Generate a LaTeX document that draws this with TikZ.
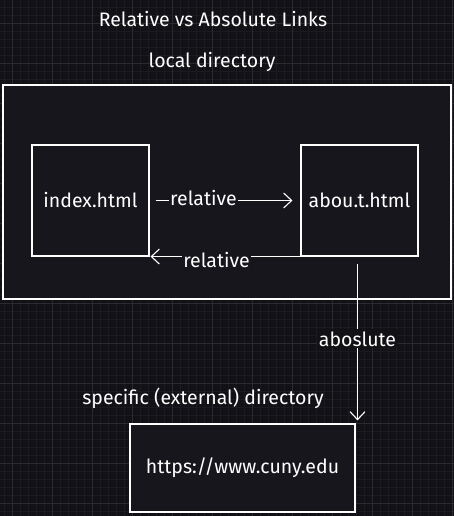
\documentclass[tikz,border=0pt]{standalone}
\usepackage{fontspec}
\setmainfont{Fira Sans}
\usetikzlibrary{arrows.meta,calc,positioning}
\definecolor{bgdark}{HTML}{121116}
\definecolor{boxfill}{HTML}{18161D}
\definecolor{gridminor}{HTML}{1B1A20}
\definecolor{gridmajor}{HTML}{2B2A30}
\tikzset{%
	sketch/.style = {draw=white, line width=1.1pt, fill=boxfill},
	page/.style   = {sketch, rectangle, minimum width=117pt, minimum height=111pt, text=white, font=\fontsize{19.5}{23}\selectfont},
	lbl/.style    = {text=white, font=\fontsize{19.5}{23}\selectfont},
	arrow/.style  = {draw=white, line width=1.1pt, -{Straight Barb[length=8pt,width=15pt]}},
}

\begin{document}
\begin{tikzpicture}[x=1pt,y=-1pt]
	\useasboundingbox (0,0) rectangle (454,516);
	\fill[bgdark] (0,0) rectangle (454,516);
	% grid
	\foreach \x in {4,12,...,452} \draw[gridminor,line width=0.5pt] (\x,0) -- (\x,516);
	\foreach \y in {7.3,15.3,...,516} \draw[gridminor,line width=0.5pt] (0,\y) -- (454,\y);
	\foreach \x in {12,52,...,452} \draw[gridmajor,line width=0.6pt] (\x,0) -- (\x,516);
	\foreach \y in {23.3,63.3,...,516} \draw[gridmajor,line width=0.6pt] (0,\y) -- (454,\y);
	% local directory
	\node[lbl] (title) at (213,19) {Relative vs Absolute Links};
	\node[lbl] (localtxt) at (212,62) {local directory};
	\node[sketch, minimum width=448pt, minimum height=214pt] (local) at (227,192) {};
	\node[page] (index) at (90.5,200.5) {index.html};
	\node[page] (about) at (359.5,200.5) {abou.t.html};
	\draw[arrow] ([xshift=6pt]index.east) -- ([xshift=-8pt]about.west)
		node[lbl, pos=0.35, fill=boxfill, inner sep=1pt, yshift=2pt] (reltop) {relative};
	\draw[arrow] (about.south west) -- ([xshift=1pt]index.south east)
		node[lbl, pos=0.56, fill=boxfill, inner sep=1pt, yshift=-3pt] (relbot) {relative};
	% external
	\node[lbl] (exttxt) at (203,398) {specific (external) directory};
	\node[page, minimum width=225pt, minimum height=88pt] (cuny) at (242.5,468) {https://www.cuny.edu};
	\draw[arrow] ([shift={(-2,7)}]about.south) coordinate (absstart) -- ([yshift=3pt]absstart |- cuny.north)
		node[lbl, pos=0.48, fill=bgdark, inner sep=2pt] (abslbl) {aboslute};
\end{tikzpicture}
\end{document}
